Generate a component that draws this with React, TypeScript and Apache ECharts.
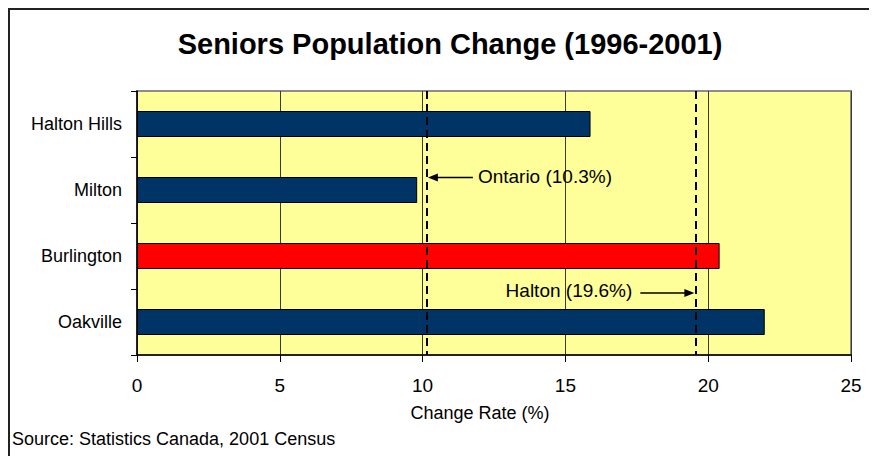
import React, { useEffect, useRef } from "react";
import * as echarts from "echarts";

const categories = ["Halton Hills", "Milton", "Burlington", "Oakville"];
const changeRates = [15.88, 9.81, 20.4, 21.98];
const barColors = ["#003366", "#003366", "#FF0000", "#003366"];
const xTicks = { min: 0, max: 25, interval: 5 };
const referenceLines = [
  { name: "Ontario", value: 10.15, label: "Ontario (10.3%)" },
  { name: "Halton", value: 19.55, label: "Halton (19.6%)" },
];
const titleText = "Seniors Population Change (1996-2001)";
const axisTitle = "Change Rate (%)";
const sourceText = "Source: Statistics Canada, 2001 Census";

const FONT = "Arial, 'Liberation Sans', sans-serif";

export default function App() {
  const ref = useRef<HTMLDivElement>(null);

  useEffect(() => {
    document.documentElement.style.overflow = "hidden";
    document.body.style.overflow = "hidden";
    if (!ref.current) return;
    const chart = echarts.init(ref.current, null, { renderer: "svg" });
    chart.setOption({
      animation: false,
      backgroundColor: "#ffffff",
      grid: {
        left: 129,
        right: 26,
        top: 83,
        bottom: 101,
        show: true,
        backgroundColor: "#FFFF99",
        borderColor: "#8c8c8c",
        borderWidth: 2,
      },
      xAxis: {
        type: "value",
        min: xTicks.min,
        max: xTicks.max,
        interval: xTicks.interval,
        axisLine: { show: true, lineStyle: { color: "#000", width: 1.5 } },
        axisTick: { show: true, length: 7, lineStyle: { color: "#000", width: 1 } },
        axisLabel: { fontSize: 19, color: "#000", fontFamily: FONT, margin: 21 },
        splitLine: { show: true, lineStyle: { color: "#3a3a3a", width: 1 } },
      },
      yAxis: {
        type: "category",
        data: categories,
        inverse: true,
        axisLine: { show: true, lineStyle: { color: "#000", width: 1.5 } },
        axisTick: { show: true, length: 6, lineStyle: { color: "#000", width: 1 } },
        axisLabel: { fontSize: 18, color: "#000", fontFamily: FONT, margin: 15 },
        splitLine: { show: false },
      },
      series: [
        {
          type: "bar",
          data: changeRates.map((v, i) => ({
            value: v,
            itemStyle: { color: barColors[i] },
          })),
          barWidth: 26,
          itemStyle: { borderColor: "#000", borderWidth: 1 },
          markLine: {
            silent: true,
            symbol: ["none", "none"],
            label: { show: false },
            lineStyle: { color: "#000", width: 2, type: [8, 5] },
            data: referenceLines.map((r) => ({ xAxis: r.value })),
          },
        },
      ],
    });

    const xOnt = chart.convertToPixel({ xAxisIndex: 0 }, referenceLines[0].value) as number;
    const xHal = chart.convertToPixel({ xAxisIndex: 0 }, referenceLines[1].value) as number;
    const yMilton = chart.convertToPixel({ yAxisIndex: 0 }, "Milton") as number;
    const yOak = chart.convertToPixel({ yAxisIndex: 0 }, "Oakville") as number;

    const yOntArrow = yMilton - 12.5;
    const yHalArrow = yOak - 29;

    const arrow = (xTail: number, xHead: number, y: number) => {
      const dir = xHead > xTail ? 1 : -1;
      return [
        {
          type: "line",
          z: 100,
          shape: { x1: xTail, y1: y, x2: xHead - dir * 6, y2: y },
          style: { stroke: "#000", lineWidth: 1.5 },
        },
        {
          type: "polygon",
          z: 100,
          shape: {
            points: [
              [xHead, y],
              [xHead - dir * 10, y - 4],
              [xHead - dir * 10, y + 4],
            ],
          },
          style: { fill: "#000" },
        },
      ];
    };

    chart.setOption({
      graphic: [
        {
          type: "rect",
          z: 100,
          shape: { x: 1, y: 1, width: 3000, height: 3000 },
          style: { fill: "none", stroke: "#222", lineWidth: 2 },
        },
        {
          type: "text",
          z: 100,
          x: 442,
          y: 36,
          style: {
            text: titleText,
            fontSize: 29,
            fontWeight: "bold",
            fontFamily: FONT,
            fill: "#000",
            align: "center",
            verticalAlign: "middle",
          },
        },
        {
          type: "text",
          z: 100,
          x: 472,
          y: 405,
          style: {
            text: axisTitle,
            fontSize: 18,
            fontFamily: FONT,
            fill: "#000",
            align: "center",
            verticalAlign: "middle",
          },
        },
        {
          type: "text",
          z: 100,
          x: 4,
          y: 431,
          style: {
            text: sourceText,
            fontSize: 18,
            fontFamily: FONT,
            fill: "#000",
            align: "left",
            verticalAlign: "middle",
          },
        },
        ...arrow(xOnt + 46, xOnt + 1, yOntArrow),
        {
          type: "text",
          z: 100,
          x: xOnt + 51,
          y: yOntArrow - 1.5,
          style: {
            text: referenceLines[0].label,
            fontSize: 19,
            fontFamily: FONT,
            fill: "#000",
            align: "left",
            verticalAlign: "middle",
          },
        },
        ...arrow(xHal - 55, xHal - 1, yHalArrow),
        {
          type: "text",
          z: 100,
          x: xHal - 63,
          y: yHalArrow - 3,
          style: {
            text: referenceLines[1].label,
            fontSize: 19,
            fontFamily: FONT,
            fill: "#000",
            align: "right",
            verticalAlign: "middle",
          },
        },
      ],
    });

    return () => chart.dispose();
  }, []);

  return <div ref={ref} style={{ width: 869, height: 448 }} />;
}
